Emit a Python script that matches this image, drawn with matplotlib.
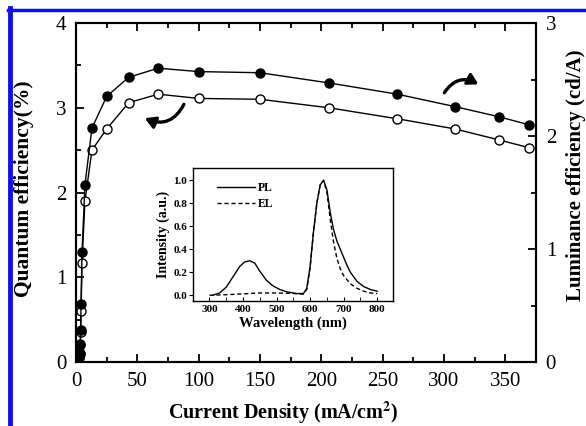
import matplotlib.pyplot as plt
import numpy as np
from matplotlib.patches import FancyArrowPatch
from matplotlib.ticker import MultipleLocator

plt.rcParams['font.family'] = ['Liberation Serif', 'DejaVu Serif']
plt.rcParams['mathtext.fontset'] = 'stix'

# current density (mA/cm^2)
current_density = [1.0, 1.5, 2.0, 2.5, 3.0, 3.5, 3.8, 4.1, 4.9, 7.3, 13, 25, 43, 67,
                   100, 150, 206, 262, 309, 345, 369]
# quantum efficiency (%), open circles, left axis
quantum_eff = [0.0, 0.01, 0.02, 0.05, 0.10, 0.20, 0.36, 0.60, 1.17, 1.90, 2.50, 2.75,
               3.06, 3.16, 3.11, 3.10, 3.00, 2.87, 2.75, 2.62, 2.53]
# luminance efficiency (cd/A), filled circles, right axis
luminance_eff = [0.0, 0.01, 0.02, 0.04, 0.08, 0.16, 0.28, 0.51, 0.97, 1.57, 2.07, 2.35,
                 2.52, 2.60, 2.57, 2.56, 2.47, 2.37, 2.26, 2.17, 2.10]

# inset spectra
pl_wavelength = [310, 330, 350, 370, 390, 405, 420, 435, 450, 470, 490, 510, 530, 560,
                 580, 590, 600, 610, 620, 630, 640, 650, 660, 670, 680, 690, 700, 710,
                 720, 740, 760, 780, 800]
pl_intensity = [0.0, 0.02, 0.07, 0.16, 0.25, 0.29, 0.30, 0.28, 0.21, 0.13, 0.08, 0.05,
                0.03, 0.015, 0.015, 0.06, 0.25, 0.55, 0.80, 0.96, 1.00, 0.92, 0.72,
                0.57, 0.47, 0.40, 0.33, 0.26, 0.20, 0.12, 0.075, 0.05, 0.035]
el_wavelength = [300, 350, 400, 450, 500, 550, 580, 590, 600, 610, 620, 630, 640, 650,
                 660, 670, 680, 690, 700, 720, 740, 760, 780, 800]
el_intensity = [0.0, 0.005, 0.012, 0.02, 0.02, 0.015, 0.01, 0.05, 0.24, 0.55, 0.80, 0.96,
                1.00, 0.90, 0.66, 0.46, 0.32, 0.23, 0.17, 0.10, 0.06, 0.035, 0.02, 0.015]

fig = plt.figure(figsize=(5.86, 4.26), dpi=100)
ax = fig.add_axes([0.1297, 0.1502, 0.785, 0.7958])
ax2 = ax.twinx()

ax.plot(current_density, quantum_eff, '-o', color='black', mfc='white', mec='black',
        ms=6.5, lw=1.0, mew=1.0, zorder=3)
ax2.plot(current_density, luminance_eff, '-o', color='black', mfc='black', mec='black',
         ms=6.5, lw=1.0, zorder=3)

ax.set_xlim(0, 375)
ax.set_ylim(0, 4)
ax2.set_ylim(0, 3)
ax.xaxis.set_major_locator(MultipleLocator(50))
ax.xaxis.set_minor_locator(MultipleLocator(25))
ax.yaxis.set_major_locator(MultipleLocator(1))
ax.yaxis.set_minor_locator(MultipleLocator(0.5))
ax2.yaxis.set_major_locator(MultipleLocator(1))
ax2.yaxis.set_minor_locator(MultipleLocator(0.5))

for a in (ax, ax2):
    for s in a.spines.values():
        s.set_linewidth(1.5)
ax.tick_params(which='both', direction='in', top=True, labelsize=15, width=1.3, pad=7)
ax.tick_params(which='major', length=6)
ax.tick_params(which='minor', length=3.5)
ax2.tick_params(which='both', direction='in', labelsize=15, width=1.3, pad=7)
ax2.tick_params(which='major', length=6)
ax2.tick_params(which='minor', length=3.5)

ax.set_xlabel("Current Density (mA/cm$^\\mathbf{2}$)", fontsize=14.5, fontweight='bold')
ax.xaxis.set_label_coords(0.451, -0.11)
ax.set_ylabel("Quantum efficiency(%)", fontsize=15.5, fontweight='bold')
ax.yaxis.set_label_coords(-0.092, 0.51)
ax2.set_ylabel("Luminance efficiency (cd/A)", fontsize=15, fontweight='bold')
ax2.yaxis.set_label_coords(1.066, 0.55)

# curved arrows
ax.add_patch(FancyArrowPatch((89, 3.07), (54, 2.89), connectionstyle='arc3,rad=-0.5',
                             arrowstyle='-|>,head_length=6,head_width=3.5', lw=2.4,
                             color='black', mutation_scale=1))
ax.add_patch(FancyArrowPatch((299, 3.15), (330, 3.26), connectionstyle='arc3,rad=-0.5',
                             arrowstyle='-|>,head_length=6,head_width=3.5', lw=2.4,
                             color='black', mutation_scale=1))

# inset
ins = fig.add_axes([0.3288, 0.2934, 0.3424, 0.3129])
ins.plot(pl_wavelength, pl_intensity, '-', color='black', lw=1.0, label='PL')
ins.plot(el_wavelength, el_intensity, '--', color='black', lw=1.0, label='EL',
         dashes=(3, 2))
ins.set_xlim(250, 848)
ins.set_ylim(-0.05, 1.11)
ins.xaxis.set_major_locator(MultipleLocator(100))
ins.xaxis.set_minor_locator(MultipleLocator(50))
ins.set_yticks(np.arange(0, 1.01, 0.2))
ins.yaxis.set_major_formatter(plt.FormatStrFormatter('%.1f'))
ins.tick_params(axis='x', which='both', direction='in', labelsize=8, length=3, pad=3)
ins.tick_params(axis='y', which='both', direction='out', labelsize=8, length=3, pad=1)
for lbl in ins.get_xticklabels() + ins.get_yticklabels():
    lbl.set_fontweight('bold')
for s in ins.spines.values():
    s.set_linewidth(1.0)
ins.set_xlabel("Wavelength (nm)", fontsize=10.5, fontweight='bold', labelpad=2)
ins.set_ylabel("Intensity (a.u.)", fontsize=10, fontweight='bold', labelpad=2)
ins.legend(loc='upper left', bbox_to_anchor=(0.1, 0.93), frameon=False,
           prop={'weight': 'bold', 'size': 8.5}, handlelength=3.2, handletextpad=0.2,
           borderaxespad=0, labelspacing=0.35)

# blue frame
fig.add_artist(plt.Line2D([10 / 586, 10 / 586], [0, 1 - 8 / 426], color='#1010ee', lw=3.5,
                          transform=fig.transFigure))
fig.add_artist(plt.Line2D([8 / 586, 1], [1 - 9.5 / 426, 1 - 9.5 / 426], color='#1010ee',
                          lw=2.5, transform=fig.transFigure))

fig.savefig('out.png', dpi=100)
